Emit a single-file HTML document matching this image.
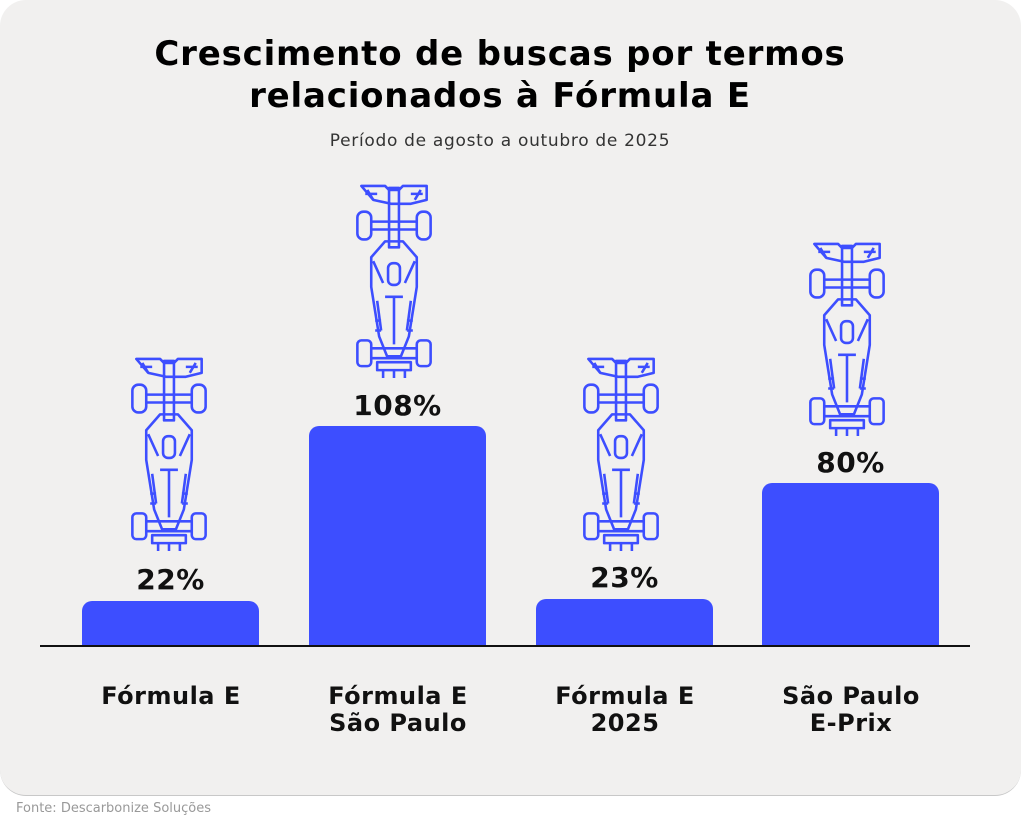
<!DOCTYPE html>
<html><head><meta charset="utf-8"><style>
body{margin:0;width:1024px;height:819px;background:#fff;position:relative;overflow:hidden;font-family:"DejaVu Sans","Liberation Sans",sans-serif}
.card{position:absolute;left:0;top:0;width:1021px;height:795px;background:#f1f0ef;border-radius:26px;border-bottom:1.5px solid #c8c8c8}
.t{position:absolute;left:0;width:1000px;text-align:center;color:#000}
.bar{position:absolute;background:#3d4eff;border-radius:10px 10px 0 0;width:177px}
.v{position:absolute;width:177px;text-align:center;font-weight:bold;font-size:28px;letter-spacing:0.5px;color:#111}
.c{position:absolute;width:230px;text-align:center;font-weight:bold;font-size:24px;line-height:27px;letter-spacing:0.5px;color:#111}
svg.car{position:absolute;width:78px;height:198px}
</style></head><body>
<div class="card"></div>
<div class="t" style="top:33px;font-size:34px;font-weight:bold;line-height:42px;letter-spacing:0.8px">Crescimento de buscas por termos<br>relacionados à Fórmula E</div>
<div class="t" style="top:131px;font-size:17px;color:#333;letter-spacing:0.7px">Período de agosto a outubro de 2025</div>
<svg width="0" height="0" style="position:absolute"><defs><g id="car" fill="none" stroke="#3d4eff" stroke-width="2.6" stroke-linejoin="round">
<path d="M6 4h24l4 4h10l4-4h24v14l-16 4h-20l-18-4z"/><path d="M12 8l6 10M66 8l-6 10M10 12h12M56 12h12"/>
<rect x="34" y="6" width="10" height="60"/>
<rect x="2" y="30" width="14" height="28" rx="6"/><rect x="62" y="30" width="14" height="28" rx="6"/>
<path d="M16 40h46M16 48h46"/>
<path d="M30 60l-14 16v30l8 50 8 20h14l8-20 8-50v-30l-14-16z"/>
<rect x="33" y="82" width="12" height="22" rx="5"/>
<path d="M18 80l10 22M60 80l-10 22M30 116h18M39 116v48M22 120l4 30M56 120l-4 30M20 140h6M52 140h6M20 150h6M52 150h6"/>
<rect x="2" y="160" width="14" height="26" rx="4"/><rect x="62" y="160" width="14" height="26" rx="4"/>
<path d="M16 168h46M16 178h46"/><rect x="22" y="182" width="34" height="8"/>
<path d="M28 190v8M50 190v8M39 190v8"/></g></defs></svg>
<svg class="car" style="left:130px;top:355px" viewBox="0 0 78 200"><use href="#car"/></svg>
<svg class="car" style="left:355px;top:182px" viewBox="0 0 78 200"><use href="#car"/></svg>
<svg class="car" style="left:582px;top:355px" viewBox="0 0 78 200"><use href="#car"/></svg>
<svg class="car" style="left:808px;top:240px" viewBox="0 0 78 200"><use href="#car"/></svg>
<div class="bar" style="left:82px;top:601px;height:45px"></div>
<div class="bar" style="left:309px;top:426px;height:220px"></div>
<div class="bar" style="left:536px;top:599px;height:47px"></div>
<div class="bar" style="left:762px;top:483px;height:163px"></div>
<div class="v" style="left:82px;top:563px">22%</div>
<div class="v" style="left:309px;top:389px">108%</div>
<div class="v" style="left:536px;top:561px">23%</div>
<div class="v" style="left:762px;top:446px">80%</div>
<div style="position:absolute;left:40px;top:645px;width:930px;height:2px;background:#111"></div>
<div class="c" style="left:56px;top:683px">Fórmula E</div>
<div class="c" style="left:283px;top:683px">Fórmula E<br>São Paulo</div>
<div class="c" style="left:510px;top:683px">Fórmula E<br>2025</div>
<div class="c" style="left:736px;top:683px">São Paulo<br>E-Prix</div>
<div style="position:absolute;left:16px;top:801px;font-size:13px;color:#999">Fonte: Descarbonize Soluções</div>
</body></html>
